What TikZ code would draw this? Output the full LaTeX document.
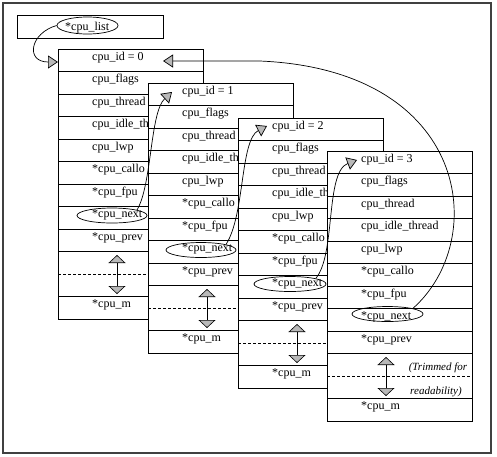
\documentclass[tikz,border=0pt]{standalone}
\usepackage{fontspec}
\setmainfont{Liberation Serif}
\usetikzlibrary{arrows.meta,shapes.geometric}
\tikzset{
 boxline/.style={line width=0.6pt},
 lbl/.style={anchor=base west, inner sep=0pt, font=\fontsize{12}{14}\selectfont},
 ring/.style={draw, ellipse, inner sep=0pt, line width=0.7pt, minimum height=15pt},
 conn/.style={line width=0.7pt, -{Triangle[length=10pt,width=13pt,fill=gray!55]}},
 dbl/.style={line width=0.6pt, {Triangle[length=8pt,width=17pt,fill=gray!55]}-{Triangle[length=8pt,width=17pt,fill=gray!55]}},
 dashline/.style={line width=0.6pt, dash pattern=on 3pt off 2pt},
}
\newcommand\cpubox[7]{% x y id prefix ellipse-x ellipse-y ellipse-width
\begin{scope}[shift={(#1,#2)}, name prefix=#4-]
 \draw[boxline, fill=white] (0,0) rectangle (145,270);
 \foreach \k in {1,2,3,4,5,6,7,8,9,11} \draw[boxline] (0,22.5*\k) -- (145,22.5*\k);
 \draw[dashline] (0,225) -- (145,225);
 \node[lbl] (r0) at (34,11) {cpu\_id = #3};
 \node[lbl] (r1) at (34,33.5) {cpu\_flags};
 \node[lbl] (r2) at (34,56) {cpu\_thread};
 \node[lbl] (r3) at (34,78.5) {cpu\_idle\_thread};
 \node[lbl] (r4) at (34,101) {cpu\_lwp};
 \node[lbl] (r5) at (34,123.5) {*cpu\_callo};
 \node[lbl] (r6) at (34,146) {*cpu\_fpu};
 \node[lbl] (r7) at (34,168.5) {*cpu\_next};
 \node[lbl] (r8) at (34,191) {*cpu\_prev};
 \node[lbl] (r11) at (34,258.5) {*cpu\_m};
 \node[ring, minimum width=#7pt] (nx) at (#5,#6) {};
 \draw[dbl] (59,206) -- (59,245);
\end{scope}}
\begin{document}
\begin{tikzpicture}[x=1pt,y=-1pt]
\useasboundingbox (0,0) rectangle (497,456);
\draw[line width=1.1pt, black!75] (3,3) rectangle (491,453);
% cpu_list
\draw[boxline] (17,15) rectangle (163,38);
\node[ring, minimum width=61pt, minimum height=17pt] (lst) at (87.5,25.5) {};
\node[lbl] (lsttxt) at (65,30) {*cpu\_list};
% boxes
\cpubox{58}{49}{0}{b0}{54}{166.5}{70}
\cpubox{148}{83}{1}{b1}{53}{167}{70}
\cpubox{238}{118}{2}{b2}{52}{166}{72}
\cpubox{327}{151}{3}{b3}{60.5}{163}{71}
\node[anchor=base, inner sep=0pt, font=\fontsize{11}{13}\selectfont\itshape] (trim1) at (438,370) {(Trimmed for};
\node[anchor=base, inner sep=0pt, font=\fontsize{11}{13}\selectfont\itshape] (trim2) at (436,394) {readability)};
% arrow targets
\coordinate (t0) at (58,62);
\coordinate (t0b) at (163,61);
\coordinate (t1) at (172,92);
\coordinate (t2) at (267,126);
\coordinate (t3) at (357,160);
% connectors
\draw[conn] (lst.west) .. controls (30,33) and (25,62) .. (t0);
\draw[conn] (b0-nx.north east) .. controls (152,185) and (150,112) .. (t1);
\draw[conn] (b1-nx.north east) .. controls (245,215) and (240,140) .. (t2);
\draw[conn] (b2-nx.north east) .. controls (336,255) and (325,172) .. (t3);
\draw[conn] (b3-nx.north east) .. controls (490,240) and (470,70) .. (260,61) -- (t0b);
\end{tikzpicture}
\end{document}
